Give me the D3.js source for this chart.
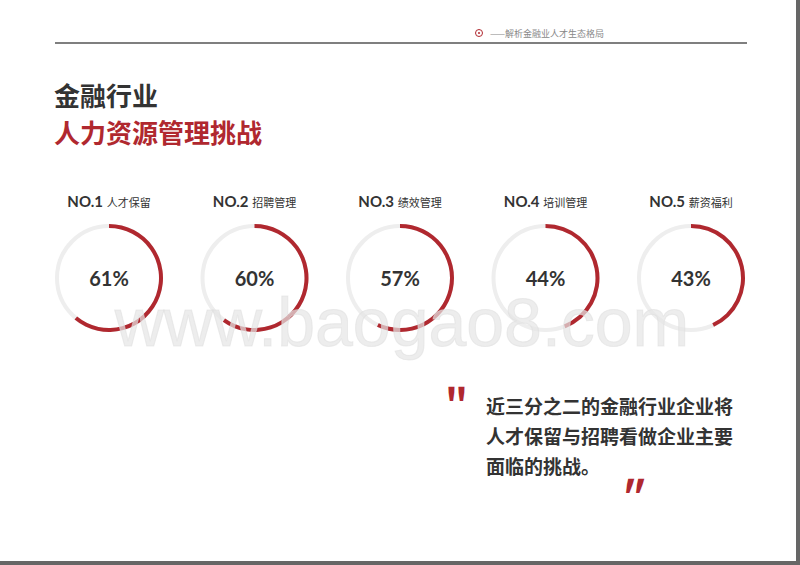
<!DOCTYPE html>
<html><head><meta charset="utf-8">
<script src="https://cdn.jsdelivr.net/npm/d3@7"></script>
<style>body{margin:0;background:#fff;font-family:"Noto Sans CJK SC","Noto Sans",sans-serif}</style>
</head><body>
<svg width="800" height="565"></svg>
<script>
const ranks = ['NO.1', 'NO.2', 'NO.3', 'NO.4', 'NO.5']
const names = ['人才保留', '招聘管理', '绩效管理', '培训管理', '薪资福利']
const values = [61, 60, 57, 44, 43]

const svg = d3.select('svg')
const red = '#b0282f'

svg.append('rect').attr('x', 796).attr('width', 4).attr('height', 565).attr('fill', '#666')
svg.append('rect').attr('y', 561).attr('width', 800).attr('height', 4).attr('fill', '#666')

// header
svg.append('line').attr('x1', 55).attr('x2', 747).attr('y1', 43).attr('y2', 43).attr('stroke', '#000').attr('stroke-width', 1.2)
svg.append('circle').attr('cx', 479).attr('cy', 33).attr('r', 3.5).attr('fill', 'none').attr('stroke', red)
svg.append('circle').attr('cx', 479).attr('cy', 33).attr('r', 1).attr('fill', red)
svg.append('text').attr('x', 490).attr('y', 37).attr('font-size', 9).attr('fill', '#888').text('——解析金融业人才生态格局')

svg.append('text').attr('x', 54).attr('y', 106).attr('font-size', 26).attr('font-weight', 700).attr('fill', '#333').text('金融行业')
svg.append('text').attr('x', 54).attr('y', 143).attr('font-size', 26).attr('font-weight', 700).attr('fill', red).text('人力资源管理挑战')

const x = d3.scalePoint().domain(d3.range(5)).range([109, 691])
const ang = d3.scaleLinear().domain([0, 100]).range([0, 2 * Math.PI])
const arc = d3.arc().innerRadius(50).outerRadius(54)

const g = svg.selectAll('g.ring').data(values).join('g')
  .attr('class', 'ring').attr('transform', (d, i) => `translate(${x(i)},278)`)

g.append('circle').attr('r', 52).attr('fill', 'none').attr('stroke', '#eeeeee').attr('stroke-width', 4)
g.append('path').attr('fill', red).attr('d', d => arc({ startAngle: 0, endAngle: ang(d) }))
g.append('text').attr('text-anchor', 'middle').attr('y', 8).attr('font-size', 20).attr('font-weight', 700)
  .attr('fill', '#333').attr('font-family', 'Lato, sans-serif').text(d => d + '%')

const lab = g.append('text').attr('text-anchor', 'middle').attr('y', -71).attr('fill', '#333')
lab.append('tspan').attr('font-size', 15).attr('font-weight', 700).attr('font-family', 'Lato, sans-serif').text((d, i) => ranks[i] + ' ')
lab.append('tspan').attr('font-size', 11).text((d, i) => names[i])

// watermark
svg.append('text').attr('x', 402).attr('y', 346).attr('text-anchor', 'middle').attr('font-size', 68)
  .attr('font-family', 'Liberation Sans, sans-serif').attr('fill', '#e6e6e6').attr('fill-opacity', 0.7)
  .attr('stroke', '#ddd').attr('stroke-opacity', 0.5).text('www.baogao8.com')

// quote
svg.append('text').attr('x', 445).attr('y', 418).attr('font-size', 40).attr('font-weight', 700).attr('fill', red).text('"')
svg.append('text').attr('x', 617).attr('y', 510).attr('font-size', 40).attr('font-style', 'italic').attr('font-weight', 700).attr('fill', red).text('"')
const lines = ['近三分之二的金融行业企业将', '人才保留与招聘看做企业主要', '面临的挑战。']
svg.selectAll('text.q').data(lines).join('text').attr('class', 'q')
  .attr('x', 486).attr('y', (d, i) => 414 + i * 30).attr('font-size', 19).attr('font-weight', 700).attr('fill', '#333').text(d => d)
</script>
</body></html>
